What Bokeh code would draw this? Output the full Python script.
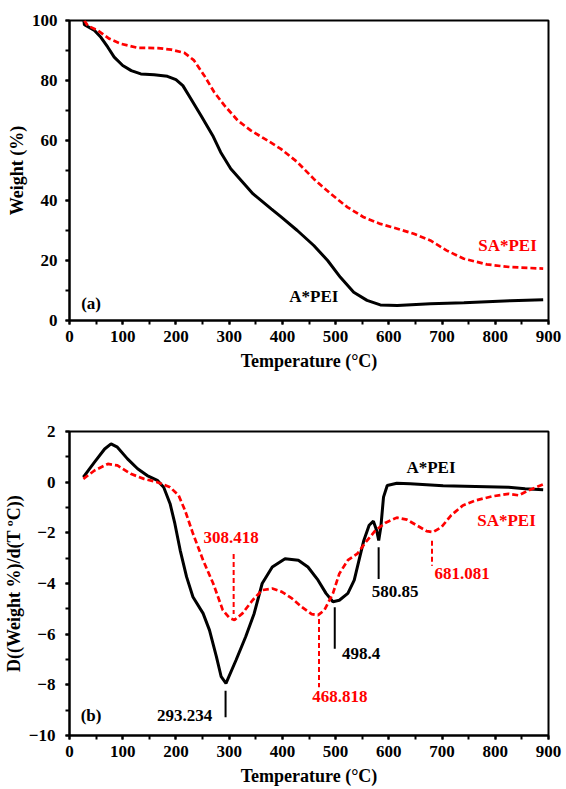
from bokeh.plotting import figure
from bokeh.layouts import column
from bokeh.models import Range1d, SingleIntervalTicker
from bokeh.core.properties import value
from bokeh.embed import file_html
from bokeh.resources import INLINE

# (a) TGA curves, weight (%) vs temperature (°C)
tga_a_temp = [27, 28, 47, 59, 72, 84, 100, 116, 134, 159, 184, 200, 213, 228, 247, 269, 284, 303,
              328, 345, 379, 397, 428, 459, 485, 509, 534, 559, 584, 616, 678, 741, 828, 890]
tga_a_wt = [100, 98.6, 96.7, 94.4, 91.1, 87.8, 85, 83.3, 82.2, 81.9, 81.4, 80.3, 78.3, 73.9, 68.3,
            61.7, 56.1, 50.6, 45.6, 42.2, 37.2, 34.6, 30, 25, 20, 14.4, 9.4, 6.7, 5.2, 5, 5.6,
            5.9, 6.6, 6.9]
tga_sa_temp = [28, 34, 53, 75, 97, 128, 166, 191, 216, 234, 253, 272, 291, 316, 341, 372, 397,
               428, 459, 491, 522, 553, 584, 616, 647, 678, 709, 741, 784, 828, 890]
tga_sa_wt = [100, 98.3, 96.7, 93.9, 92.2, 90.9, 90.8, 90.3, 89.2, 86.7, 81.7, 76.1, 71.7, 66.7,
             63.3, 60, 57.2, 52.8, 47.2, 42.2, 37.8, 34.4, 32.2, 30.6, 28.9, 26.7, 23.3, 20.6,
             18.7, 17.8, 17.3]

# (b) DTG curves
dtg_a_temp = [26, 47, 66, 78, 90, 109, 128, 146, 165, 177, 189, 198, 208, 220, 232, 251, 263,
              276, 285, 294, 313, 331, 347, 362, 381, 405, 430, 448, 467, 482, 495, 507, 523,
              535, 544, 553, 563, 571, 577, 581, 585, 590, 597, 615, 640, 671, 702, 763, 825,
              856, 890]
dtg_a_val = [0.2, 0.79, 1.31, 1.51, 1.38, 0.92, 0.53, 0.26, 0.07, -0.2, -0.85, -1.64, -2.69,
             -3.74, -4.53, -5.18, -5.84, -6.89, -7.68, -7.94, -7.02, -6.1, -5.18, -4.0, -3.35,
             -3.02, -3.08, -3.35, -3.87, -4.39, -4.72, -4.66, -4.39, -3.87, -3.08, -2.3, -1.7,
             -1.54, -1.9, -2.3, -1.77, -0.59, -0.13, -0.04, -0.06, -0.1, -0.14, -0.17, -0.2,
             -0.26, -0.3]
dtg_sa_temp = [26, 47, 72, 90, 115, 140, 165, 189, 205, 217, 232, 251, 270, 288, 300, 310, 325,
               344, 362, 381, 399, 418, 436, 455, 467, 479, 495, 507, 523, 541, 557, 575, 594,
               615, 634, 652, 671, 683, 699, 717, 739, 763, 794, 825, 844, 862, 890]
dtg_sa_val = [0.13, 0.46, 0.72, 0.66, 0.33, 0.13, 0.0, -0.2, -0.52, -1.11, -2.03, -3.08, -4.0,
              -5.05, -5.35, -5.44, -5.18, -4.66, -4.26, -4.2, -4.33, -4.59, -4.92, -5.21, -5.25,
              -5.05, -4.39, -3.61, -3.08, -2.82, -2.36, -1.9, -1.6, -1.4, -1.48, -1.7, -1.93,
              -1.97, -1.77, -1.31, -0.92, -0.72, -0.56, -0.46, -0.52, -0.33, -0.09]

# peak markers: temperature, line top, line bottom
peaks_a = [293.234, 498.4, 580.85]
peaks_a_top = [-8.23, -4.94, -2.57]
peaks_a_bot = [-9.28, -6.58, -3.82]
peaks_sa = [308.418, 468.818, 681.081]
peaks_sa_top = [-2.84, -5.4, -2.31]
peaks_sa_bot = [-5.2, -8.1, -3.3]

FONT = "Liberation Serif"
RED = "#ff0000"


def style(p, yint, ylabel, ystandoff):
    p.xaxis.ticker = SingleIntervalTicker(interval=100, num_minor_ticks=2)
    p.yaxis.ticker = SingleIntervalTicker(interval=yint, num_minor_ticks=2)
    p.grid.visible = False
    p.outline_line_color = "black"
    p.outline_line_width = 2
    p.xaxis.axis_label = "Temperature (°C)"
    p.yaxis.axis_label = ylabel
    for ax in (p.xaxis, p.yaxis):
        ax.axis_line_width = 2
        ax.major_tick_in = 0
        ax.major_tick_out = 4
        ax.minor_tick_in = 0
        ax.minor_tick_out = 4
        ax.major_tick_line_width = 2
        ax.minor_tick_line_width = 2
        ax.major_label_text_font = FONT
        ax.major_label_text_font_style = "bold"
        ax.major_label_text_font_size = "17px"
        ax.major_label_text_color = "black"
        ax.axis_label_text_font = FONT
        ax.axis_label_text_font_style = "bold"
        ax.axis_label_text_font_size = "18px"
        ax.axis_label_text_color = "black"
    p.xaxis.major_label_standoff = 6
    p.xaxis.axis_label_standoff = 6
    p.yaxis.major_label_standoff = ystandoff
    p.yaxis.axis_label_standoff = 2


def label(p, x, y, txt, color, align="left"):
    p.text(x=[x], y=[y], text=[txt], text_color=color, text_font=value(FONT),
           text_font_style="bold", text_font_size="17px", text_align=align,
           text_baseline="middle")


# ---- top panel (a)
p1 = figure(width=566, height=392, x_range=Range1d(0, 900), y_range=Range1d(0, 100),
            output_backend="svg", toolbar_location=None,
            min_border_left=68, min_border_right=18, min_border_top=20, min_border_bottom=72)
style(p1, 20, "Weight (%)", 8)
p1.line(tga_a_temp, tga_a_wt, line_color="black", line_width=3)
p1.line(tga_sa_temp, tga_sa_wt, line_color=RED, line_width=2.7, line_dash="6 3")
label(p1, 768, 25, "SA*PEI", RED)
label(p1, 413, 8, "A*PEI", "black")
label(p1, 22, 5.6, "(a)", "black")

# ---- bottom panel (b)
p2 = figure(width=566, height=397, x_range=Range1d(0, 900), y_range=Range1d(-10, 2),
            output_backend="svg", toolbar_location=None,
            min_border_left=68, min_border_right=13, min_border_top=39, min_border_bottom=54)
style(p2, 2, "D((Weight %)/d(T ºC))", 10)
p2.line(dtg_a_temp, dtg_a_val, line_color="black", line_width=3)
p2.line(dtg_sa_temp, dtg_sa_val, line_color=RED, line_width=2.7, line_dash="6 3")
p2.segment(x0=peaks_a, y0=peaks_a_top, x1=peaks_a, y1=peaks_a_bot, line_color="black", line_width=2)
p2.segment(x0=peaks_sa, y0=peaks_sa_top, x1=peaks_sa, y1=peaks_sa_bot, line_color=RED,
           line_width=2, line_dash="5 3")
label(p2, 268, -9.2, "293.234", "black", "right")
label(p2, 252, -2.2, "308.418", RED)
label(p2, 456, -8.45, "468.818", RED)
label(p2, 512, -6.75, "498.4", "black")
label(p2, 568, -4.3, "580.85", "black")
label(p2, 686, -3.6, "681.081", RED)
label(p2, 633, 0.58, "A*PEI", "black")
label(p2, 766, -1.52, "SA*PEI", RED)
label(p2, 21, -9.2, "(b)", "black")

layout = column(p1, p2, spacing=0)
open("out.html", "w").write(file_html(layout, INLINE))
